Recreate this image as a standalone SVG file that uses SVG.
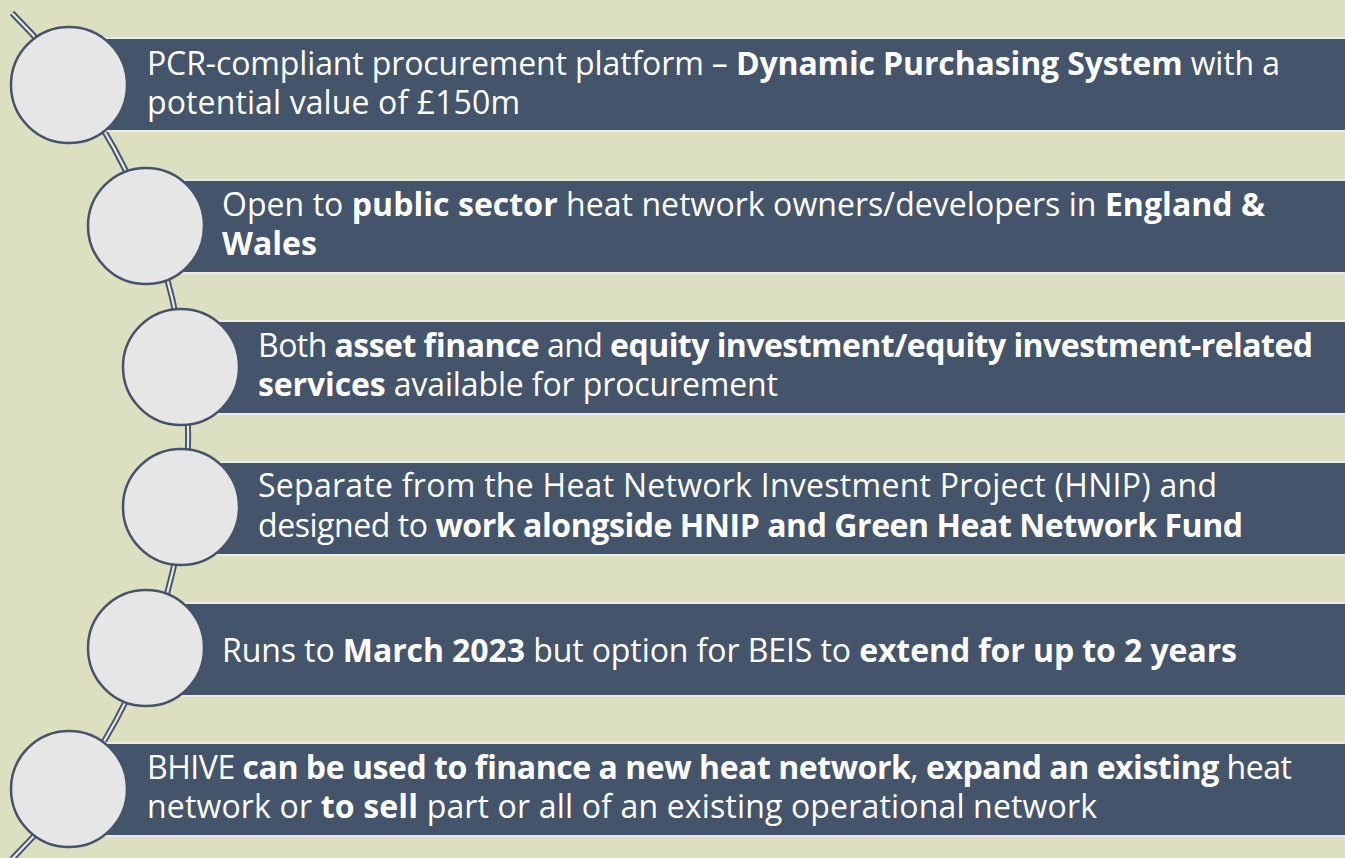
<svg xmlns="http://www.w3.org/2000/svg" width="1345" height="858" viewBox="0 0 1345 858">
<style>
.bar{fill:#44546a;stroke:#e9e9e6;stroke-width:2}
.dot{fill:#e7e6e6;stroke:#44546a;stroke-width:2.5}
.t{font-family:"Open Sans","Noto Sans","Liberation Sans",sans-serif;font-size:32px;fill:#ffffff}
.b{font-weight:bold}
</style>
<rect x="0" y="0" width="1345" height="858" fill="#dcdfc0"/>
<g id="connectors">
<path d="M 12 13 A 596 596 0 0 1 12 859" fill="none" stroke="#44546a" stroke-width="6"/>
<path d="M 12 13 A 596 596 0 0 1 12 859" fill="none" stroke="#e7e6e6" stroke-width="2.2"/>
</g>
<g id="node1">
<rect class="bar" x="69" y="38" width="1290" height="93"/>
<circle class="dot" cx="69" cy="85" r="58"/>
<text class="t" x="147" y="75" textLength="1133" lengthAdjust="spacing">PCR-compliant procurement platform – <tspan class="b">Dynamic Purchasing System</tspan> with a</text>
<text class="t" x="147" y="114" textLength="373" lengthAdjust="spacing">potential value of £150m</text>
</g>
<g id="node2">
<rect class="bar" x="146" y="180" width="1210" height="93"/>
<circle class="dot" cx="146" cy="226" r="58"/>
<text class="t" x="222" y="216" textLength="1043" lengthAdjust="spacing">Open to <tspan class="b">public sector</tspan> heat network owners/developers in <tspan class="b">England &amp;</tspan></text>
<text class="t" x="222" y="255"><tspan class="b">Wales</tspan></text>
</g>
<g id="node3">
<rect class="bar" x="181" y="321" width="1180" height="93"/>
<circle class="dot" cx="181" cy="367" r="58"/>
<text class="t" x="258" y="357" textLength="1055" lengthAdjust="spacing">Both <tspan class="b">asset finance</tspan> and <tspan class="b">equity investment/equity investment-related</tspan></text>
<text class="t" x="258" y="396" textLength="520" lengthAdjust="spacing"><tspan class="b">services</tspan> available for procurement</text>
</g>
<g id="node4">
<rect class="bar" x="181" y="462" width="1180" height="93"/>
<circle class="dot" cx="181" cy="507" r="58"/>
<text class="t" x="258" y="497" textLength="959" lengthAdjust="spacing">Separate from the Heat Network Investment Project (HNIP) and</text>
<text class="t" x="258" y="537" textLength="985" lengthAdjust="spacing">designed to <tspan class="b">work alongside HNIP and Green Heat Network Fund</tspan></text>
</g>
<g id="node5">
<rect class="bar" x="146" y="603" width="1210" height="93"/>
<circle class="dot" cx="146" cy="648" r="58"/>
<text class="t" x="222" y="662" textLength="1015" lengthAdjust="spacing">Runs to <tspan class="b">March 2023</tspan> but option for BEIS to <tspan class="b">extend for up to 2 years</tspan></text>
</g>
<g id="node6">
<rect class="bar" x="69" y="743" width="1290" height="93"/>
<circle class="dot" cx="69" cy="789" r="58"/>
<text class="t" x="147" y="779" textLength="1145" lengthAdjust="spacing">BHIVE <tspan class="b">can be used to finance a new heat network</tspan>, <tspan class="b">expand an existing</tspan> heat</text>
<text class="t" x="147" y="818" textLength="950" lengthAdjust="spacing">network or <tspan class="b">to sell</tspan> part or all of an existing operational network</text>
</g>
</svg>
